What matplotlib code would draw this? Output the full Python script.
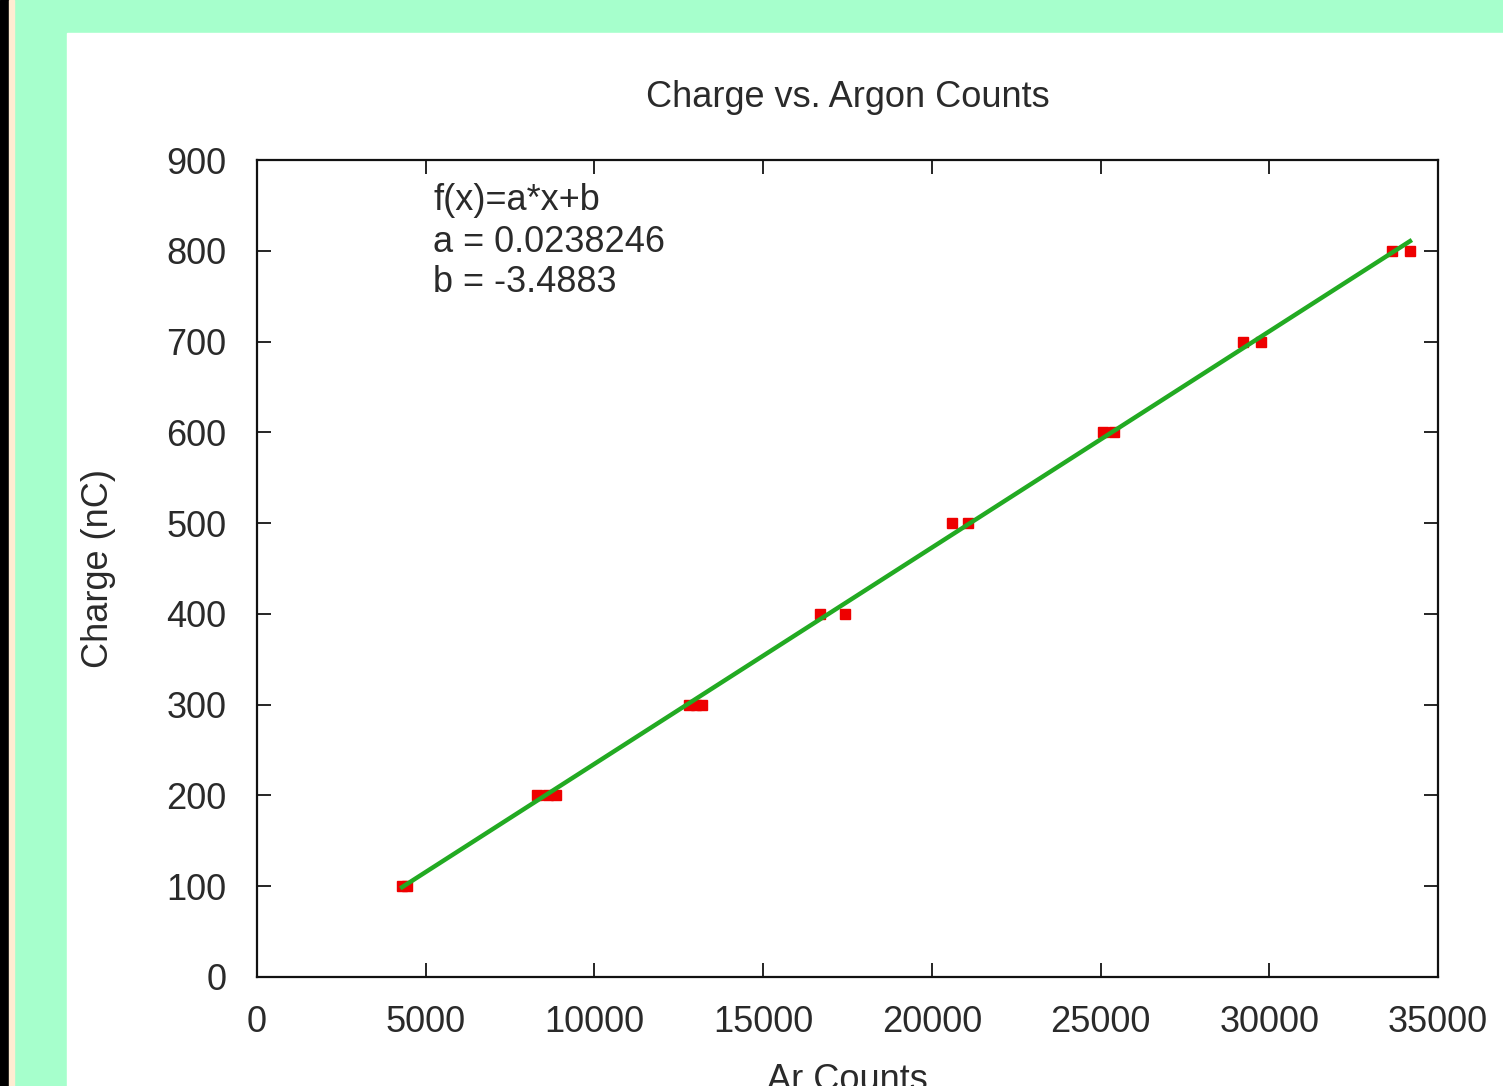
import matplotlib.pyplot as plt
import numpy as np

# data
ar_counts = [4300, 4450, 8300, 8620, 8860, 12800, 13000, 13200, 16690, 17430,
             20600, 21070, 25070, 25400, 29220, 29760, 33640, 34170]
charge = [100, 100, 200, 200, 200, 300, 300, 300, 400, 400,
          500, 500, 600, 600, 700, 700, 800, 800]
fit_a = 0.0238246
fit_b = -3.4883
x_ticks = [0, 5000, 10000, 15000, 20000, 25000, 30000, 35000]
y_ticks = [0, 100, 200, 300, 400, 500, 600, 700, 800, 900]

plt.rcParams['font.family'] = ['Liberation Sans', 'DejaVu Sans']
txt = '#2a2a2a'
W, H = 1503, 1086
fs = 26

fig = plt.figure(figsize=(15.03, 10.86), dpi=100)
fig.patch.set_facecolor('#a6ffcc')
# left edge strips and white panel, behind the axes
fig.add_artist(plt.Rectangle((0, 0), 9 / W, 1, transform=fig.transFigure, color='black', zorder=-10))
fig.add_artist(plt.Rectangle((9 / W, 0), 5 / W, 1, transform=fig.transFigure, color='#ffecd2', zorder=-10))
fig.add_artist(plt.Rectangle((67 / W, 0), 1, 1 - 33 / H, transform=fig.transFigure, color='white', zorder=-10))

ax = fig.add_axes([257 / W, 1 - 977 / H, (1438 - 257) / W, (977 - 160) / H])
ax.set_facecolor('white')

xs = np.array([min(ar_counts), max(ar_counts)])
ax.plot(xs, fit_a * xs + fit_b, color='#22aa22', lw=3.2, zorder=3)
ax.plot(ar_counts, charge, 's', color='#ee0000', ms=7.5, mec='#ee0000', zorder=2)

ax.set_xlim(0, 35000)
ax.set_ylim(0, 900)
ax.set_xticks(x_ticks)
ax.set_yticks(y_ticks)
ax.tick_params(direction='in', length=10, width=1.2, top=True, right=True,
               labelsize=fs, labelcolor=txt, pad=22)
ax.tick_params(axis='x', pad=20)
for s in ax.spines.values():
    s.set_linewidth(1.6)
    s.set_color('#111111')

ax.set_title('Charge vs. Argon Counts', fontsize=fs, color=txt, pad=38)
# the reference image cuts this label off at the bottom edge
ax.set_xlabel('Ar Counts', fontsize=fs, color=txt, labelpad=17)
ax.set_ylabel('Charge (nC)', fontsize=fs, color=txt, labelpad=36)

for i, line in enumerate(['f(x)=a*x+b', 'a = 0.0238246', 'b = -3.4883']):
    fig.text(433 / W, 1 - (201 + 41 * i) / H, line, fontsize=fs, color=txt, va='center')

plt.savefig('out.png', dpi=100, facecolor=fig.get_facecolor())
